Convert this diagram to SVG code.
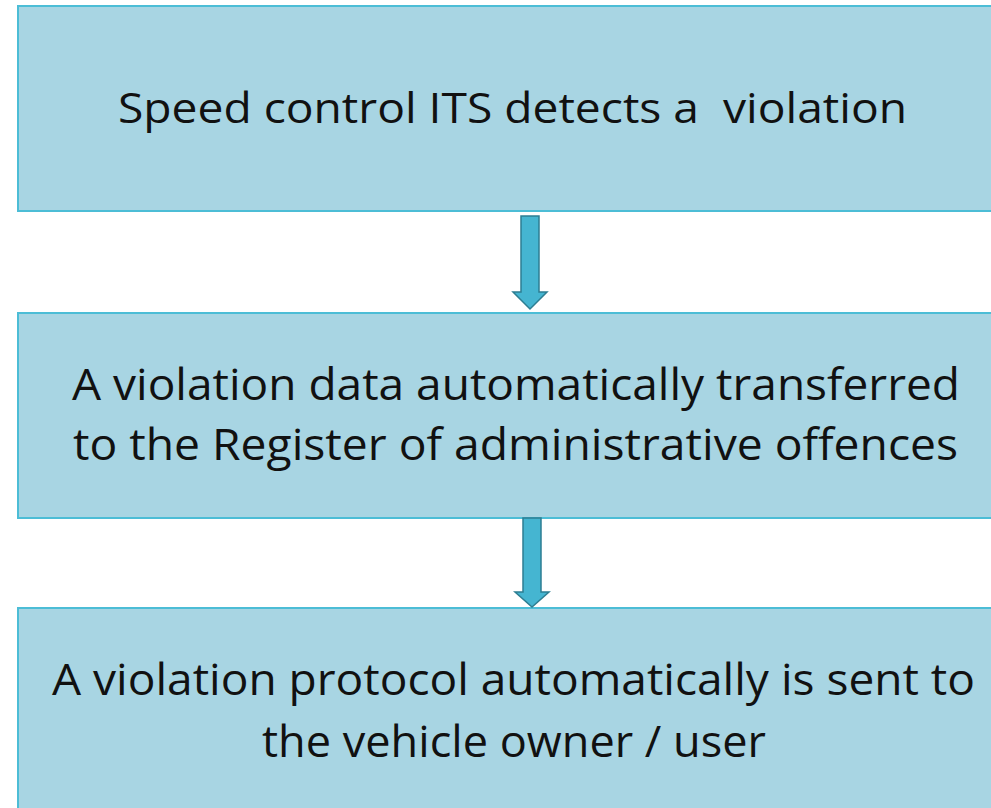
<svg xmlns="http://www.w3.org/2000/svg" width="991" height="808" viewBox="0 0 991 808">
<style>
.box{fill:#a8d5e3;stroke:#4cbdd6;stroke-width:2}
.t{font-family:"Open Sans","Liberation Sans",sans-serif;fill:#111;}
.arr{fill:#45b5d1;stroke:#2d7e92;stroke-width:1.5;stroke-linejoin:miter}
</style>
<rect width="991" height="808" fill="#ffffff"/>
<g id="node1">
<rect class="box" x="18" y="6" width="990" height="205"/>
<text class="t" x="118" y="123" font-size="42" textLength="789" lengthAdjust="spacingAndGlyphs" xml:space="preserve" style="white-space:pre">Speed control ITS detects a  violation</text>
</g>
<g id="node2">
<rect class="box" x="18" y="313" width="990" height="205"/>
<text class="t" x="72" y="400" font-size="44" textLength="888" lengthAdjust="spacingAndGlyphs">A violation data automatically transferred</text>
<text class="t" x="73" y="460" font-size="44" textLength="885" lengthAdjust="spacingAndGlyphs">to the Register of administrative offences</text>
</g>
<g id="node3">
<rect class="box" x="18" y="608" width="990" height="220"/>
<text class="t" x="52" y="695" font-size="44" textLength="923" lengthAdjust="spacingAndGlyphs">A violation protocol automatically is sent to</text>
<text class="t" x="262" y="757" font-size="44" textLength="504" lengthAdjust="spacingAndGlyphs">the vehicle owner / user</text>
</g>
<g id="connectors">
<path class="arr" d="M521,216 L539,216 L539,292 L547,292 L530,309 L513,292 L521,292 Z"/>
<path class="arr" d="M523,518 L541,518 L541,592 L549,592 L532,607 L515,592 L523,592 Z"/>
</g>
</svg>
